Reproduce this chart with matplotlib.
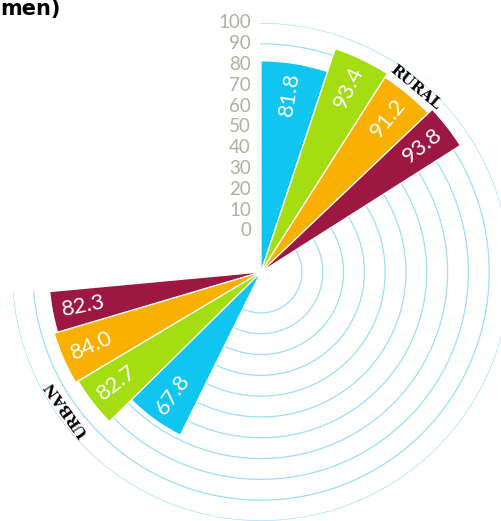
import numpy as np
import matplotlib
matplotlib.use("Agg")
import matplotlib.pyplot as plt
from matplotlib.transforms import offset_copy

# data: share (%) per series, same series order in both groups
series_colors = ["#10c6f1", "#a4dd12", "#f9b000", "#9c1742"]
rural_values = [81.8, 93.4, 91.2, 93.8]
urban_values = [67.8, 82.7, 84.0, 82.3]
group_labels = ["RURAL", "URBAN"]
tick_values = list(range(0, 101, 10))
title_text = "men)"

# layout: compass angle edges (deg, clockwise from north) of each wedge
rural_edges = [0.0, 18.4, 32.5, 46.5, 57.6]
urban_edges = [206.3, 225.4, 239.2, 253.5, 264.7]
R_MIN = -19.7  # radius offset so the 0 ring sits away from the centre

fig = plt.figure(figsize=(5.02, 5.21), dpi=100)
ax = fig.add_axes([0.0239, 0.0, 0.992, 0.956], projection="polar")
ax.set_theta_zero_location("N")
ax.set_theta_direction(-1)
ax.set_ylim(R_MIN, 100)
ax.set_xticks([])
ax.set_yticks([])
ax.grid(False)
ax.spines["polar"].set_visible(False)
ax.patch.set_alpha(0)

# rings, drawn as open arcs
arc = np.radians(np.linspace(0, 265, 400))
for v in tick_values:
    ax.plot(arc, np.full_like(arc, v), color="#9ddff6", lw=0.9, zorder=1)

num_font = dict(family="Lato", weight="normal")


def draw_group(edges, values, outward):
    edges = np.radians(edges)
    for i, v in enumerate(values):
        t0, t1 = edges[i], edges[i + 1]
        ax.bar((t0 + t1) / 2, v - R_MIN, width=t1 - t0, bottom=R_MIN,
               color=series_colors[i], edgecolor="white", linewidth=0.9,
               zorder=3)
        c = np.degrees((t0 + t1) / 2)
        rot = 90 - c if outward else 270 - c
        ax.text((t0 + t1) / 2, v - 15, f"{v:.1f}", rotation=rot,
                rotation_mode="anchor", ha="center", va="center",
                color="white", fontsize=16, zorder=4, **num_font)


draw_group(rural_edges, rural_values, outward=True)
draw_group(urban_edges, urban_values, outward=False)

# group labels along the rings
for label, c, r in [(group_labels[0], 39.8, 96.0), (group_labels[1], 234.8, 94.5)]:
    ax.text(np.radians(c), r, label, rotation=-c, rotation_mode="anchor",
            ha="center", va="center", fontsize=11, family="DejaVu Serif",
            weight="bold", color="black", zorder=5)

# scale labels left of the vertical axis
tick_tr = offset_copy(ax.transData, fig=fig, x=-10, y=0, units="dots")
for v in tick_values:
    ax.text(0, v, str(v), transform=tick_tr, ha="right", va="center",
            fontsize=13.5, color="#b4af9d", clip_on=False, **num_font)

fig.text(0.0, 1 - 15 / 521, title_text, ha="left", va="baseline",
         fontsize=15, weight="bold", family="DejaVu Sans", color="black")

fig.savefig("out.png", dpi=100)
